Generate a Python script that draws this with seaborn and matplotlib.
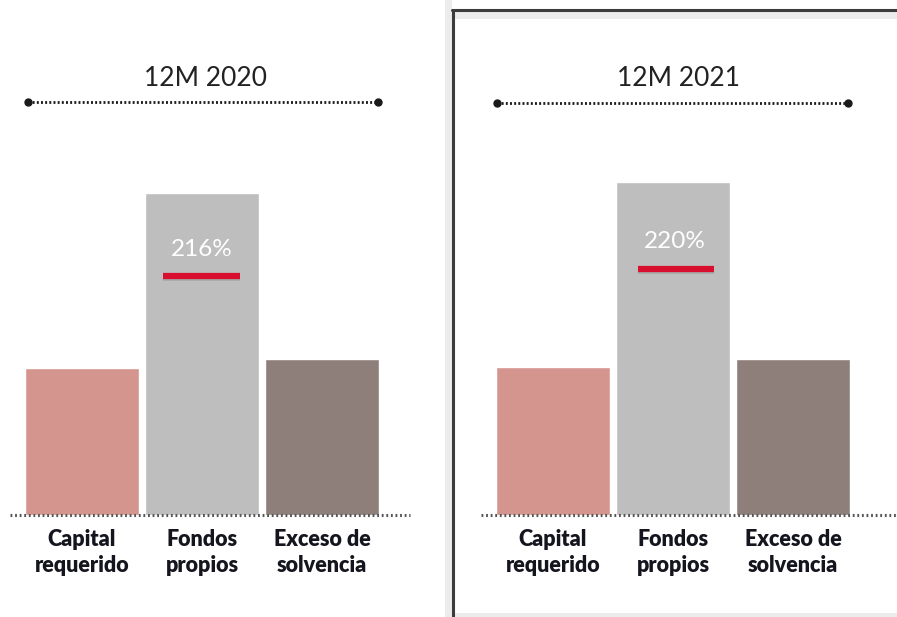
import matplotlib
matplotlib.use("Agg")
import matplotlib.pyplot as plt
import seaborn as sns
import pandas as pd
from matplotlib.lines import Line2D
from matplotlib.patches import Rectangle

categories = ["Capital\nrequerido", "Fondos\npropios", "Exceso de\nsolvencia"]
values_2020 = [147, 322, 156]
values_2021 = [148, 333, 156]
titles = ["12M 2020", "12M 2021"]
ratios = ["216%", "220%"]
colors = ["#d4958f", "#bebebe", "#8e7f7b"]

sns.set_theme(style="white")
plt.rcParams["font.family"] = ["Lato", "DejaVu Sans"]

W, H = 897, 617
fig = plt.figure(figsize=(W / 100, H / 100), dpi=100)
fig.patch.set_facecolor("white")

def fx(px):
    return px / W

def fy(py):
    return 1 - py / H

# background decorations (figure coords)
fig.patches.append(Rectangle((fx(445), 0), fx(7), 1, transform=fig.transFigure,
                             facecolor="#ececec", edgecolor="none", zorder=0))
fig.patches.append(Rectangle((fx(452), fy(19)), fx(445), fy(11) - fy(19), transform=fig.transFigure,
                             facecolor="#ececec", edgecolor="none", zorder=0))
fig.patches.append(Rectangle((fx(452), 0), fx(445), 4 / H, transform=fig.transFigure,
                             facecolor="#ececec", edgecolor="none", zorder=0))
fig.lines.append(Line2D([fx(453), fx(453)], [0, fy(10)], transform=fig.transFigure,
                        color="#3c3c3c", lw=2.2, zorder=1))
fig.lines.append(Line2D([fx(452), 1], [fy(10), fy(10)], transform=fig.transFigure,
                        color="#3c3c3c", lw=2.2, zorder=1))

baseline = 515
top_px = 60
unit = 120.0

panels = [
    dict(vals=values_2020, c0=82, left=10, right=410, title=titles[0], ratio=ratios[0],
         tx=202, ty=250, rl=(163, 240), ry=276, lx=(28, 378), ly=102, titlex=205),
    dict(vals=values_2021, c0=553, left=481, right=897, title=titles[1], ratio=ratios[1],
         tx=675, ty=241, rl=(638, 714), ry=269, lx=(497, 848), ly=103, titlex=678),
]

for p in panels:
    c0 = p["c0"]
    ax = fig.add_axes([fx(p["left"]), fy(baseline), fx(p["right"] - p["left"]), fy(top_px) - fy(baseline)])
    df = pd.DataFrame({"cat": categories, "val": p["vals"]})
    sns.barplot(data=df, x="cat", y="val", hue="cat", palette=colors, legend=False,
                width=0.95, saturation=1, ax=ax, zorder=2)
    ax.set_xlim(-(c0 - p["left"]) / unit, (p["right"] - c0) / unit)
    ax.set_ylim(0, baseline - top_px)
    for s in ax.spines.values():
        s.set_visible(False)
    ax.set_yticks([])
    ax.set_xlabel("")
    ax.set_ylabel("")
    ax.tick_params(axis="x", length=0, pad=10)
    for lab in ax.get_xticklabels():
        lab.set_fontsize(15.5)
        lab.set_fontweight("heavy")
        lab.set_color("#15151f")
        lab.set_linespacing(1.3)
    ax.axhline(0, color="#555555", lw=2.2, ls=(0, (0.6, 0.9)), zorder=3, clip_on=False)

    def dx(px):
        return (px - c0) / unit

    def dy(py):
        return baseline - py

    ax.text(dx(p["titlex"]), dy(78), p["title"], ha="center", va="center",
            fontsize=19, fontweight="normal", color="#222222", clip_on=False)
    ax.plot([dx(p["lx"][0]), dx(p["lx"][1])], [dy(p["ly"])] * 2, color="#1a1a1a",
            lw=2.0, ls=(0, (0.7, 0.8)), clip_on=False, zorder=3)
    ax.plot([dx(p["lx"][0]), dx(p["lx"][1])], [dy(p["ly"])] * 2, ls="none", marker="o",
            ms=5, color="#1a1a1a", clip_on=False, zorder=4)
    ax.text(dx(p["tx"]), dy(p["ty"]), p["ratio"], ha="center", va="center",
            fontsize=17.5, fontweight="normal", color="white", zorder=5)
    ax.plot([dx(p["rl"][0]), dx(p["rl"][1])], [dy(p["ry"] + 2)] * 2, color="#a6a6a6",
            lw=4, solid_capstyle="butt", zorder=4)
    ax.plot([dx(p["rl"][0]), dx(p["rl"][1])], [dy(p["ry"])] * 2, color="#d80f2e",
            lw=4.5, solid_capstyle="butt", zorder=5)

fig.savefig("out.png", dpi=100, facecolor="white")
